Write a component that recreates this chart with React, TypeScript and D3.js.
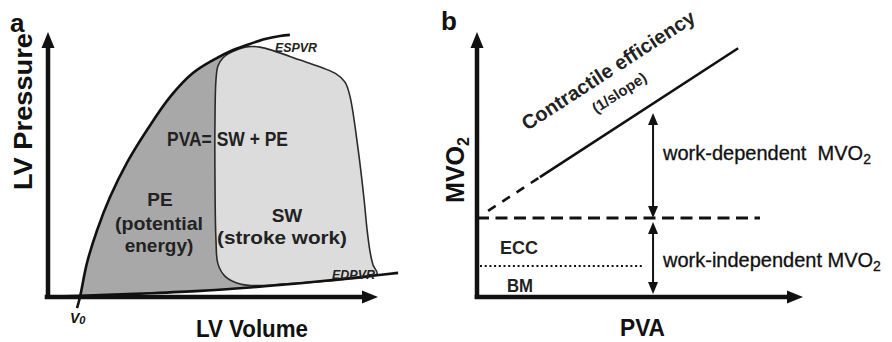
import React from 'react';
import * as d3 from 'd3';

// panel a: LV pressure-volume diagram, [volume, pressure] in arbitrary units
const espvr: [number, number][] = [
  [8.8, -4.2], [9.7, 0], [11.8, 12.8], [14.9, 25.3], [18.8, 37.7], [23.9, 50.6],
  [30.0, 63.0], [37.0, 75.5], [43.9, 84.5], [50.0, 89.4], [56.1, 93.2],
  [61.2, 95.5], [65.8, 97.4], [70.3, 98.5], [73.3, 98.9],
];
const edpvr: [number, number][] = [
  [2.1, 0.2], [15.8, 0.7], [30.9, 1.4], [46.1, 2.3], [61.2, 3.6],
  [76.4, 5.2], [88.5, 6.7], [97.6, 7.9], [106.1, 9.1],
];
const pvLoop: [number, number][] = [
  [53.0, 90.2], [55.8, 92.5], [59.7, 94.3], [64.2, 94.3], [76.4, 89.4], [87.3, 84.2],
  [90.0, 81.1], [91.5, 75.8], [94.0, 55.5], [95.8, 36.6], [96.7, 25.3], [97.6, 17.0],
  [98.5, 12.1], [99.7, 8.7], [91.5, 6.8], [82.4, 5.8], [73.3, 5.1], [64.8, 4.3],
  [58.2, 4.9], [53.6, 7.9], [51.5, 12.5], [50.9, 21.5], [50.6, 44.2], [50.6, 66.8],
  [50.9, 81.9], [51.5, 87.2],
];

// panel b: MVO2 vs PVA
const basalMVO2 = 29.8; // work-independent MVO2 (ECC + BM)
const bmMVO2 = 11.7; // basal metabolism
const pvaSlope = 0.8;
const extrapolatedPVA = [3.4, 19.3];
const measuredPVA = [19.3, 80.1];
const basalLineEnd = 86.8;
const bmLineEnd = 50.6;
const arrowPVA = 54;
const arrowTopMVO2 = 69.4;

const FONT = '"Liberation Sans", Arial, Helvetica, sans-serif';

// triangle with tip at (x, y) pointing in direction dir
function head(x: number, y: number, dir: string, len: number, half: number) {
  let pts: number[][];
  if (dir === 'up') pts = [[x, y], [x - half, y + len], [x + half, y + len]];
  else if (dir === 'down') pts = [[x, y], [x - half, y - len], [x + half, y - len]];
  else pts = [[x, y], [x - len, y - half], [x - len, y + half]];
  return pts.map(p => p.join(',')).join(' ');
}

export default function App() {
  const xA = d3.scaleLinear().domain([0, 100]).range([48, 378]);
  const yA = d3.scaleLinear().domain([0, 100]).range([297, 32]);
  const xB = d3.scaleLinear().domain([0, 100]).range([477, 803]);
  const yB = d3.scaleLinear().domain([0, 100]).range([297, 32]);

  const smooth = d3.curveCatmullRom.alpha(0.5);
  const lineA = d3.line<[number, number]>().x(d => xA(d[0])).y(d => yA(d[1])).curve(smooth);
  const loopLine = d3.line<[number, number]>().x(d => xA(d[0])).y(d => yA(d[1]))
    .curve(d3.curveCatmullRomClosed.alpha(0.5));
  const areaA = d3.area<[number, number]>().x(d => xA(d[0])).y0(yA(0)).y1(d => yA(d[1])).curve(smooth);

  const mvo2 = (pva: number) => basalMVO2 + pvaSlope * pva;
  const lineB = d3.line<number>().x(d => xB(d)).y(d => yB(mvo2(d)));

  const ax = xB(arrowPVA);
  const squeeze = { lengthAdjust: 'spacingAndGlyphs' } as any;

  return (
    <svg width={892} height={342} style={{ position: 'absolute', left: 0, top: 0, background: '#fff' }}
      fontFamily={FONT}>
      <defs>
        <clipPath id="peClip">
          <rect x={0} y={100} width={xA(64.8)} height={yA(0) - 100} />
          <rect x={0} y={0} width={xA(57)} height={100} />
        </clipPath>
      </defs>

      {/* ---------- panel a ---------- */}
      <path d={areaA(espvr) || ''} fill="#a8a8a8" clipPath="url(#peClip)" />
      <path d={areaA(edpvr) || ''} fill="#fff" />
      <path d={loopLine(pvLoop) || ''} fill="#dcdcdc" stroke="#2a2a2a" strokeWidth={1.6} />
      <path d={lineA(espvr) || ''} fill="none" stroke="#111" strokeWidth={2.6} />
      <path d={lineA(edpvr) || ''} fill="none" stroke="#111" strokeWidth={2.6} />

      <line x1={xA(0)} x2={xA(0)} y1={yA(0) + 2} y2={yA(100) + 12} stroke="#111" strokeWidth={4.5} />
      <polygon points={head(xA(0), yA(100), 'up', 16, 6.5)} fill="#111" />
      <line x1={xA(-1)} x2={xA(100) - 12} y1={yA(0)} y2={yA(0)} stroke="#111" strokeWidth={4.5} />
      <polygon points={head(xA(100), yA(0), 'right', 16, 6.5)} fill="#111" />

      <text x={10} y={32} fontSize={26} fontWeight="bold" fill="#111">a</text>
      <text transform="translate(32,190) rotate(-90)" fontSize={25} fontWeight="bold"
        fill="#111" textLength={157} {...squeeze}>LV Pressure</text>
      <text x={196} y={337} fontSize={24} fontWeight="bold" fill="#111"
        textLength={112} {...squeeze}>LV Volume</text>
      <text x={70} y={323} fontSize={14} fontWeight="bold" fontStyle="italic" fill="#111">
        V<tspan fontSize={11} dy={1}>0</tspan>
      </text>
      <text x={275} y={52} fontSize={13} fontWeight="bold" fontStyle="italic" fill="#222"
        textLength={42} {...squeeze}>ESPVR</text>
      <text x={332} y={279} fontSize={13} fontWeight="bold" fontStyle="italic" fill="#222"
        textLength={43} {...squeeze}>EDPVR</text>

      <text x={167} y={146} fontSize={20} fontWeight="bold" fill="#222"
        textLength={121} {...squeeze}>PVA= SW + PE</text>
      <g fontSize={19} fontWeight="bold" fill="#222">
        <text x={160} y={206} textAnchor="middle">PE</text>
        <text x={115} y={230} textLength={88} {...squeeze}>(potential</text>
        <text x={159} y={252} textAnchor="middle">energy)</text>
        <text x={287} y={222} textAnchor="middle">SW</text>
        <text x={217} y={244} textLength={130} {...squeeze}>(stroke work)</text>
      </g>

      {/* ---------- panel b ---------- */}
      <line x1={xB(0)} x2={xB(basalLineEnd)} y1={yB(basalMVO2)} y2={yB(basalMVO2)}
        stroke="#111" strokeWidth={3} strokeDasharray="12,6.5" />
      <line x1={xB(0) + 3} x2={xB(bmLineEnd)} y1={yB(bmMVO2)} y2={yB(bmMVO2)}
        stroke="#111" strokeWidth={2} strokeDasharray="2,2.7" />
      <path d={lineB(extrapolatedPVA) || ''} fill="none" stroke="#111" strokeWidth={2.6} strokeDasharray="9,8" />
      <path d={lineB(measuredPVA) || ''} fill="none" stroke="#111" strokeWidth={2.6} />

      <line x1={ax} x2={ax} y1={yB(arrowTopMVO2) + 10} y2={yB(basalMVO2) - 10} stroke="#111" strokeWidth={2} />
      <polygon points={head(ax, yB(arrowTopMVO2), 'up', 12, 5)} fill="#111" />
      <polygon points={head(ax, yB(basalMVO2), 'down', 12, 5)} fill="#111" />
      <line x1={ax} x2={ax} y1={yB(basalMVO2) + 14} y2={yB(0) - 12} stroke="#111" strokeWidth={2} />
      <polygon points={head(ax, yB(basalMVO2) + 4, 'up', 12, 5)} fill="#111" />
      <polygon points={head(ax, yB(0) - 3, 'down', 12, 5)} fill="#111" />

      <line x1={xB(0)} x2={xB(0)} y1={yB(0) + 2} y2={yB(100) + 12} stroke="#111" strokeWidth={4.5} />
      <polygon points={head(xB(0), yB(100), 'up', 16, 6.5)} fill="#111" />
      <line x1={xB(-0.7)} x2={xB(100) - 12} y1={yB(0)} y2={yB(0)} stroke="#111" strokeWidth={4.5} />
      <polygon points={head(xB(100), yB(0), 'right', 16, 6.5)} fill="#111" />

      <text x={441} y={30} fontSize={26} fontWeight="bold" fill="#111">b</text>
      <text transform="translate(464,170) rotate(-90)" textAnchor="middle" fontSize={25} fontWeight="bold" fill="#111">
        MVO<tspan fontSize={16} dy={5}>2</tspan>
      </text>
      <text x={620} y={336} fontSize={23} fontWeight="bold" fill="#111"
        textLength={45} {...squeeze}>PVA</text>

      <text x={500} y={254} fontSize={19} fontWeight="bold" fill="#222"
        textLength={38} {...squeeze}>ECC</text>
      <text x={507} y={292} fontSize={18} fontWeight="bold" fill="#222"
        textLength={26} {...squeeze}>BM</text>

      <text transform="translate(612,76) rotate(-33)" textAnchor="middle" fontSize={20} fontWeight="bold"
        fill="#222">Contractile efficiency</text>
      <text transform="translate(622,97) rotate(-33)" textAnchor="middle" fontSize={15} fontWeight="bold"
        fill="#222">(1/slope)</text>

      <text x={663} y={160} fontSize={20} fill="#111" stroke="#111" strokeWidth={0.3}>
        work-dependent{'\u00a0 '}MVO<tspan fontSize={14} dy={4}>2</tspan>
      </text>
      <text x={663} y={267} fontSize={20} fill="#111" stroke="#111" strokeWidth={0.3}>
        work-independent MVO<tspan fontSize={14} dy={4}>2</tspan>
      </text>
    </svg>
  );
}
